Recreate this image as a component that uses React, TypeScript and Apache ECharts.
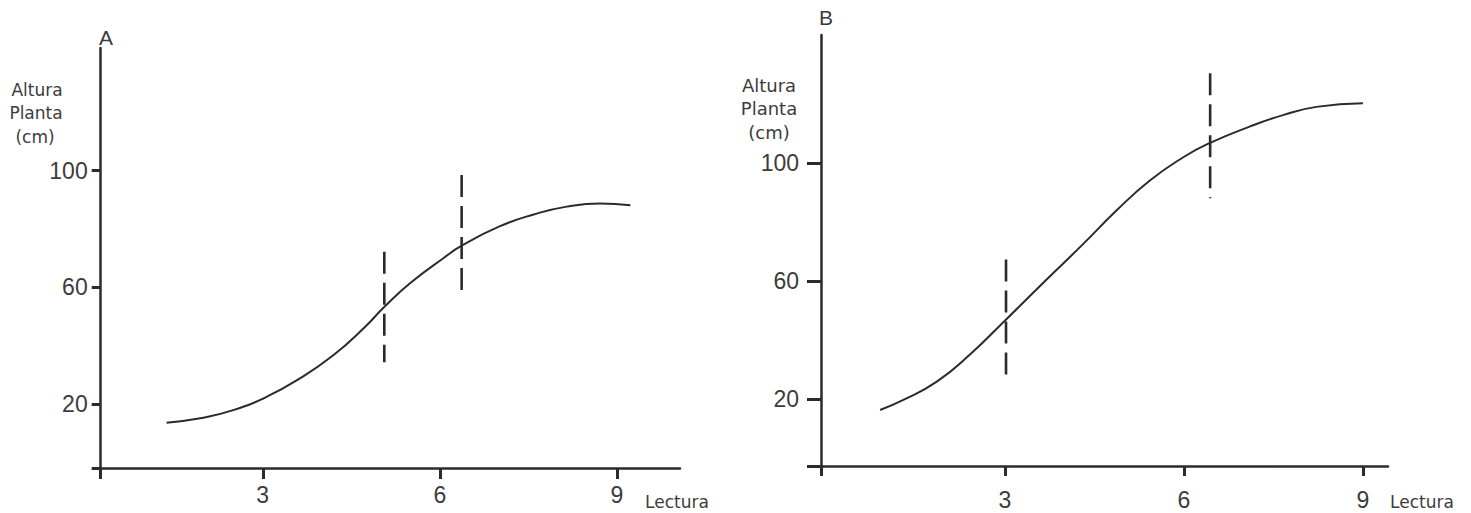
import React, { useEffect, useRef } from "react";
import * as echarts from "echarts";

// Panel A data (Lectura vs Altura Planta cm)
const curveA: [number, number][] = [
  [1.37, 13.6], [1.94, 15.1], [2.5, 17.9], [3.07, 22.5], [3.63, 28.8], [4.2, 36.8],
  [4.71, 46.0], [5.07, 53.5], [5.5, 61.5], [6.06, 70.0], [6.37, 74.3], [7.02, 81],
  [7.59, 85], [8.15, 87.7], [8.72, 88.8], [9.23, 88.2],
];
const dashA1: [number, number][] = [[5.06, 72.2], [5.06, 34.3]];
const dashA2: [number, number][] = [[6.37, 98.5], [6.37, 57.7]];

// Panel B data
const curveB: [number, number][] = [
  [0.91, 16.3], [1.3, 19.7], [1.86, 25.9], [2.42, 35.2], [2.97, 46.0], [3.53, 57.2],
  [4.31, 72.6], [4.87, 84.0], [5.43, 94.2], [5.99, 102.1], [6.42, 106.8], [7.1, 112.5],
  [7.66, 116.4], [8.22, 119.2], [9.0, 120.4],
];
const dashB1: [number, number][] = [[3.02, 67.4], [3.02, 25.9]];
const dashB2: [number, number][] = [[6.44, 130.6], [6.44, 88.2]];

const xTicks = [3, 6, 9];
const yTicks = [20, 60, 100];
const yTitle = ["Altura", "Planta", "(cm)"];
const xTitle = "Lectura";
const panelNames = ["A", "B"];

const INK = "#2b2b2b";
const TXT = "#3c3c3c";

export default function App() {
  const ref = useRef<HTMLDivElement>(null);
  useEffect(() => {
    if (!ref.current) return;
    const chart = echarts.init(ref.current, undefined, { renderer: "svg" });

    const xA = { min: 0.254, max: 10.07 };
    const yA = { min: -1.95, max: 142.1 };
    const xB = { min: -0.08, max: 9.42 };
    const yB = { min: -2.72, max: 143.6 };

    const mkX = (idx: number, r: { min: number; max: number }, labelMargin: number, tickLen: number) => ({
      type: "value",
      gridIndex: idx,
      min: r.min,
      max: r.max,
      axisLine: { show: true, onZero: false, lineStyle: { color: INK, width: 2.5 } },
      axisTick: { show: true, inside: false, length: tickLen, customValues: [r.min, ...xTicks], lineStyle: { color: INK, width: 3 } },
      axisLabel: { show: true, customValues: xTicks, margin: labelMargin, color: TXT, fontSize: 23, fontFamily: "Liberation Sans" },
      splitLine: { show: false },
    });
    const mkY = (idx: number, r: { min: number; max: number }, labelMargin: number, tickLen: number) => ({
      type: "value",
      gridIndex: idx,
      min: r.min,
      max: r.max,
      axisLine: { show: true, onZero: false, lineStyle: { color: INK, width: 2.5 } },
      axisTick: { show: true, inside: false, length: tickLen, customValues: [r.min, ...yTicks], lineStyle: { color: INK, width: 3 } },
      axisLabel: { show: true, customValues: yTicks, margin: labelMargin, color: TXT, fontSize: 23, fontFamily: "Liberation Sans" },
      splitLine: { show: false },
    });

    const curve = (data: [number, number][], idx: number) => ({
      type: "line",
      xAxisIndex: idx,
      yAxisIndex: idx,
      data,
      smooth: 0.5,
      showSymbol: false,
      symbol: "none",
      lineStyle: { color: INK, width: 2 },
      z: 3,
    });
    const dash = (data: [number, number][], idx: number) => ({
      type: "line",
      xAxisIndex: idx,
      yAxisIndex: idx,
      data,
      showSymbol: false,
      symbol: "none",
      lineStyle: { color: INK, width: 2.6, type: [22, 9] },
      z: 2,
    });

    const txt = (text: string, x: number, y: number, size: number, align = "center", family = "DejaVu Sans") => ({
      type: "text",
      x,
      y,
      style: { text, fill: TXT, fontSize: size, fontFamily: family, align, verticalAlign: "middle" },
    });

    chart.setOption({
      animation: false,
      backgroundColor: "#ffffff",
      grid: [
        { left: 100.7, right: 791, top: 48, bottom: 45 },
        { left: 821, right: 83, top: 35, bottom: 47 },
      ],
      xAxis: [mkX(0, xA, 15, 11), mkX(1, xB, 22, 10)],
      yAxis: [mkY(0, yA, 13, 9), mkY(1, yB, 22, 14)],
      series: [
        curve(curveA, 0),
        dash(dashA1, 0),
        dash(dashA2, 0),
        curve(curveB, 1),
        dash(dashB1, 1),
        dash(dashB2, 1),
      ],
      graphic: [
        txt(panelNames[0], 106, 37, 21, "center", "Liberation Sans"),
        txt(panelNames[1], 826, 17, 21, "center", "Liberation Sans"),
        txt(yTitle[0], 37, 90, 17),
        txt(yTitle[1], 36, 113, 17),
        txt(yTitle[2], 35, 137, 17),
        txt(yTitle[0], 769, 85, 18),
        txt(yTitle[1], 769, 108, 18),
        txt(yTitle[2], 769, 132, 18),
        txt(xTitle, 645, 502, 17, "left"),
        txt(xTitle, 1390, 502, 17, "left"),
      ],
    });
    return () => chart.dispose();
  }, []);
  return (
    <div
      ref={ref}
      style={{ position: "fixed", left: 0, top: 0, width: 1471, height: 513, background: "#fff" }}
    />
  );
}
